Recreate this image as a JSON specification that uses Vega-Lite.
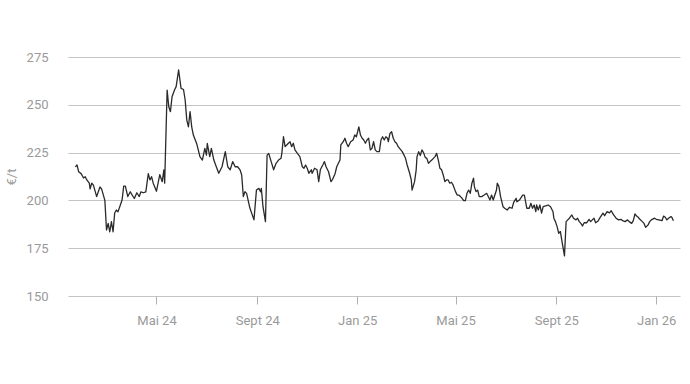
{
  "$schema": "https://vega.github.io/schema/vega-lite/v6.json",
  "width": 612,
  "height": 239,
  "autosize": {"type": "none"},
  "padding": {"left": 68, "top": 57, "right": 10, "bottom": 88},
  "background": "white",
  "config": {
    "view": {"stroke": null},
    "font": "Roboto"
  },
  "data": {
    "values": [
      {"d": "2024-01-23", "v": 217.5},
      {"d": "2024-01-25", "v": 218.5},
      {"d": "2024-01-27", "v": 215},
      {"d": "2024-01-30", "v": 214},
      {"d": "2024-02-02", "v": 211.7},
      {"d": "2024-02-04", "v": 212.4},
      {"d": "2024-02-06", "v": 210.7},
      {"d": "2024-02-09", "v": 209},
      {"d": "2024-02-10", "v": 206},
      {"d": "2024-02-12", "v": 209},
      {"d": "2024-02-14", "v": 208},
      {"d": "2024-02-18", "v": 202},
      {"d": "2024-02-22", "v": 207},
      {"d": "2024-02-24", "v": 206},
      {"d": "2024-02-26", "v": 203},
      {"d": "2024-02-28", "v": 200},
      {"d": "2024-03-01", "v": 184.5},
      {"d": "2024-03-03", "v": 188},
      {"d": "2024-03-05", "v": 183.6},
      {"d": "2024-03-07", "v": 188.9},
      {"d": "2024-03-09", "v": 183.6},
      {"d": "2024-03-11", "v": 193.4},
      {"d": "2024-03-13", "v": 195},
      {"d": "2024-03-15", "v": 194},
      {"d": "2024-03-20", "v": 200.2},
      {"d": "2024-03-22", "v": 207.5},
      {"d": "2024-03-24", "v": 207.5},
      {"d": "2024-03-27", "v": 202},
      {"d": "2024-03-30", "v": 204.5},
      {"d": "2024-04-01", "v": 203},
      {"d": "2024-04-04", "v": 201},
      {"d": "2024-04-07", "v": 204},
      {"d": "2024-04-10", "v": 202},
      {"d": "2024-04-12", "v": 204.5},
      {"d": "2024-04-15", "v": 204},
      {"d": "2024-04-18", "v": 204.5},
      {"d": "2024-04-21", "v": 214},
      {"d": "2024-04-23", "v": 210.7},
      {"d": "2024-04-25", "v": 212.4},
      {"d": "2024-04-27", "v": 209},
      {"d": "2024-05-01", "v": 204.8},
      {"d": "2024-05-05", "v": 213.5},
      {"d": "2024-05-08", "v": 209.8},
      {"d": "2024-05-10", "v": 216},
      {"d": "2024-05-11", "v": 209},
      {"d": "2024-05-14", "v": 257.7},
      {"d": "2024-05-16", "v": 249},
      {"d": "2024-05-18", "v": 246.4},
      {"d": "2024-05-20", "v": 254.2},
      {"d": "2024-05-23", "v": 257.7},
      {"d": "2024-05-25", "v": 259.5},
      {"d": "2024-05-28", "v": 268.2},
      {"d": "2024-05-31", "v": 258.6},
      {"d": "2024-06-03", "v": 258},
      {"d": "2024-06-05", "v": 252.5},
      {"d": "2024-06-07", "v": 242},
      {"d": "2024-06-09", "v": 238.5},
      {"d": "2024-06-11", "v": 246.4},
      {"d": "2024-06-13", "v": 238.5},
      {"d": "2024-06-15", "v": 234.2},
      {"d": "2024-06-19", "v": 229.8},
      {"d": "2024-06-21", "v": 226.4},
      {"d": "2024-06-23", "v": 222.9},
      {"d": "2024-06-26", "v": 221.1},
      {"d": "2024-06-29", "v": 227.2},
      {"d": "2024-07-01", "v": 223.7},
      {"d": "2024-07-02", "v": 229.8},
      {"d": "2024-07-05", "v": 222.9},
      {"d": "2024-07-07", "v": 227.2},
      {"d": "2024-07-10", "v": 221.1},
      {"d": "2024-07-13", "v": 217.6},
      {"d": "2024-07-16", "v": 214.2},
      {"d": "2024-07-20", "v": 217.6},
      {"d": "2024-07-24", "v": 225.5},
      {"d": "2024-07-27", "v": 217.6},
      {"d": "2024-07-30", "v": 216},
      {"d": "2024-08-02", "v": 220.3},
      {"d": "2024-08-05", "v": 217.6},
      {"d": "2024-08-08", "v": 217.6},
      {"d": "2024-08-11", "v": 216},
      {"d": "2024-08-13", "v": 213.3},
      {"d": "2024-08-15", "v": 202},
      {"d": "2024-08-17", "v": 204.6},
      {"d": "2024-08-19", "v": 203.7},
      {"d": "2024-08-23", "v": 196},
      {"d": "2024-08-28", "v": 189.8},
      {"d": "2024-08-31", "v": 205.4},
      {"d": "2024-09-03", "v": 206.3},
      {"d": "2024-09-05", "v": 204.5},
      {"d": "2024-09-06", "v": 206.3},
      {"d": "2024-09-08", "v": 196.7},
      {"d": "2024-09-11", "v": 188.9},
      {"d": "2024-09-13", "v": 223.7},
      {"d": "2024-09-15", "v": 224.6},
      {"d": "2024-09-18", "v": 220.3},
      {"d": "2024-09-21", "v": 216},
      {"d": "2024-09-24", "v": 219.4},
      {"d": "2024-09-27", "v": 221.1},
      {"d": "2024-09-30", "v": 222},
      {"d": "2024-10-01", "v": 224.6},
      {"d": "2024-10-03", "v": 233.3},
      {"d": "2024-10-05", "v": 228.1},
      {"d": "2024-10-07", "v": 229},
      {"d": "2024-10-09", "v": 229.9},
      {"d": "2024-10-11", "v": 230.7},
      {"d": "2024-10-13", "v": 228.1},
      {"d": "2024-10-15", "v": 229.9},
      {"d": "2024-10-17", "v": 226.4},
      {"d": "2024-10-20", "v": 224.6},
      {"d": "2024-10-23", "v": 222.9},
      {"d": "2024-10-26", "v": 217.6},
      {"d": "2024-10-28", "v": 216.8},
      {"d": "2024-10-30", "v": 218.5},
      {"d": "2024-11-01", "v": 216.8},
      {"d": "2024-11-03", "v": 214.2},
      {"d": "2024-11-06", "v": 216},
      {"d": "2024-11-07", "v": 214.2},
      {"d": "2024-11-10", "v": 216.8},
      {"d": "2024-11-13", "v": 216},
      {"d": "2024-11-15", "v": 209.8},
      {"d": "2024-11-17", "v": 216},
      {"d": "2024-11-20", "v": 218.5},
      {"d": "2024-11-22", "v": 220.3},
      {"d": "2024-11-24", "v": 217.6},
      {"d": "2024-11-27", "v": 215},
      {"d": "2024-11-30", "v": 209.8},
      {"d": "2024-12-02", "v": 211},
      {"d": "2024-12-05", "v": 214},
      {"d": "2024-12-07", "v": 217.6},
      {"d": "2024-12-09", "v": 219.4},
      {"d": "2024-12-11", "v": 221.1},
      {"d": "2024-12-12", "v": 229},
      {"d": "2024-12-15", "v": 230.7},
      {"d": "2024-12-17", "v": 232.5},
      {"d": "2024-12-19", "v": 229.9},
      {"d": "2024-12-21", "v": 228.1},
      {"d": "2024-12-24", "v": 230.7},
      {"d": "2024-12-27", "v": 231.6},
      {"d": "2024-12-29", "v": 234.2},
      {"d": "2024-12-31", "v": 233.3},
      {"d": "2025-01-03", "v": 238.5},
      {"d": "2025-01-05", "v": 234.2},
      {"d": "2025-01-07", "v": 232.5},
      {"d": "2025-01-09", "v": 231.6},
      {"d": "2025-01-11", "v": 229.9},
      {"d": "2025-01-13", "v": 231.6},
      {"d": "2025-01-15", "v": 232.5},
      {"d": "2025-01-17", "v": 226.4},
      {"d": "2025-01-19", "v": 227.2},
      {"d": "2025-01-21", "v": 230.7},
      {"d": "2025-01-23", "v": 226.4},
      {"d": "2025-01-25", "v": 225.5},
      {"d": "2025-01-28", "v": 225.5},
      {"d": "2025-01-30", "v": 231.6},
      {"d": "2025-02-01", "v": 233.3},
      {"d": "2025-02-03", "v": 231.6},
      {"d": "2025-02-05", "v": 233.3},
      {"d": "2025-02-07", "v": 232.5},
      {"d": "2025-02-08", "v": 230.7},
      {"d": "2025-02-10", "v": 235},
      {"d": "2025-02-12", "v": 235.9},
      {"d": "2025-02-14", "v": 232.5},
      {"d": "2025-02-16", "v": 230.7},
      {"d": "2025-02-18", "v": 229.9},
      {"d": "2025-02-20", "v": 228.1},
      {"d": "2025-02-25", "v": 225.5},
      {"d": "2025-03-01", "v": 222},
      {"d": "2025-03-03", "v": 218.5},
      {"d": "2025-03-06", "v": 214.2},
      {"d": "2025-03-08", "v": 210.7},
      {"d": "2025-03-09", "v": 205.4},
      {"d": "2025-03-12", "v": 209.8},
      {"d": "2025-03-14", "v": 216},
      {"d": "2025-03-15", "v": 222.9},
      {"d": "2025-03-17", "v": 225.5},
      {"d": "2025-03-19", "v": 223.5},
      {"d": "2025-03-21", "v": 226.4},
      {"d": "2025-03-23", "v": 225},
      {"d": "2025-03-25", "v": 222.5},
      {"d": "2025-03-27", "v": 222},
      {"d": "2025-03-29", "v": 219.4},
      {"d": "2025-03-31", "v": 220.3},
      {"d": "2025-04-02", "v": 221.1},
      {"d": "2025-04-04", "v": 222},
      {"d": "2025-04-06", "v": 222.9},
      {"d": "2025-04-08", "v": 224.6},
      {"d": "2025-04-10", "v": 221.1},
      {"d": "2025-04-12", "v": 216.8},
      {"d": "2025-04-14", "v": 216},
      {"d": "2025-04-16", "v": 213.3},
      {"d": "2025-04-18", "v": 209.8},
      {"d": "2025-04-20", "v": 210.7},
      {"d": "2025-04-22", "v": 210.7},
      {"d": "2025-04-24", "v": 209},
      {"d": "2025-04-26", "v": 209.5},
      {"d": "2025-04-28", "v": 208.1},
      {"d": "2025-05-01", "v": 204.6},
      {"d": "2025-05-03", "v": 202.8},
      {"d": "2025-05-05", "v": 202.8},
      {"d": "2025-05-07", "v": 202},
      {"d": "2025-05-09", "v": 201.1},
      {"d": "2025-05-11", "v": 199.9},
      {"d": "2025-05-13", "v": 199.9},
      {"d": "2025-05-15", "v": 203.7},
      {"d": "2025-05-17", "v": 205.4},
      {"d": "2025-05-19", "v": 203.7},
      {"d": "2025-05-21", "v": 209},
      {"d": "2025-05-23", "v": 211.6},
      {"d": "2025-05-24", "v": 207.2},
      {"d": "2025-05-26", "v": 204.6},
      {"d": "2025-05-28", "v": 205.4},
      {"d": "2025-05-30", "v": 202},
      {"d": "2025-06-02", "v": 202},
      {"d": "2025-06-05", "v": 202.8},
      {"d": "2025-06-08", "v": 203.7},
      {"d": "2025-06-10", "v": 202},
      {"d": "2025-06-12", "v": 200.2},
      {"d": "2025-06-14", "v": 202.8},
      {"d": "2025-06-16", "v": 200.2},
      {"d": "2025-06-20", "v": 205.4},
      {"d": "2025-06-21", "v": 209},
      {"d": "2025-06-23", "v": 207.2},
      {"d": "2025-06-25", "v": 202},
      {"d": "2025-06-28", "v": 196.7},
      {"d": "2025-06-30", "v": 195.9},
      {"d": "2025-07-03", "v": 195},
      {"d": "2025-07-06", "v": 196.4},
      {"d": "2025-07-09", "v": 195.9},
      {"d": "2025-07-11", "v": 199},
      {"d": "2025-07-14", "v": 201.1},
      {"d": "2025-07-15", "v": 199.3},
      {"d": "2025-07-18", "v": 200.2},
      {"d": "2025-07-22", "v": 202.8},
      {"d": "2025-07-24", "v": 202.8},
      {"d": "2025-07-27", "v": 195.9},
      {"d": "2025-07-30", "v": 195.9},
      {"d": "2025-08-01", "v": 198.5},
      {"d": "2025-08-03", "v": 195.9},
      {"d": "2025-08-05", "v": 197.6},
      {"d": "2025-08-07", "v": 194.1},
      {"d": "2025-08-08", "v": 197.6},
      {"d": "2025-08-10", "v": 195},
      {"d": "2025-08-12", "v": 197.6},
      {"d": "2025-08-14", "v": 193.3},
      {"d": "2025-08-16", "v": 196.7},
      {"d": "2025-08-19", "v": 197.1},
      {"d": "2025-08-22", "v": 197.6},
      {"d": "2025-08-25", "v": 196.7},
      {"d": "2025-08-28", "v": 194.1},
      {"d": "2025-08-29", "v": 190.7},
      {"d": "2025-08-31", "v": 188.9},
      {"d": "2025-09-02", "v": 186.3},
      {"d": "2025-09-04", "v": 182.8},
      {"d": "2025-09-06", "v": 183.7},
      {"d": "2025-09-08", "v": 178.4},
      {"d": "2025-09-11", "v": 171},
      {"d": "2025-09-13", "v": 188.9},
      {"d": "2025-09-15", "v": 189.8},
      {"d": "2025-09-17", "v": 190.7},
      {"d": "2025-09-20", "v": 192.4},
      {"d": "2025-09-22", "v": 190.7},
      {"d": "2025-09-25", "v": 189.8},
      {"d": "2025-09-27", "v": 190.7},
      {"d": "2025-09-29", "v": 188.9},
      {"d": "2025-10-01", "v": 188},
      {"d": "2025-10-03", "v": 186.6},
      {"d": "2025-10-05", "v": 188.3},
      {"d": "2025-10-08", "v": 188.3},
      {"d": "2025-10-11", "v": 190.1},
      {"d": "2025-10-13", "v": 188.9},
      {"d": "2025-10-15", "v": 189.8},
      {"d": "2025-10-17", "v": 190.7},
      {"d": "2025-10-19", "v": 188.3},
      {"d": "2025-10-22", "v": 189.2},
      {"d": "2025-10-24", "v": 190.7},
      {"d": "2025-10-28", "v": 193.3},
      {"d": "2025-10-30", "v": 192},
      {"d": "2025-11-02", "v": 194.1},
      {"d": "2025-11-05", "v": 193.5},
      {"d": "2025-11-07", "v": 194.6},
      {"d": "2025-11-10", "v": 192.4},
      {"d": "2025-11-13", "v": 190.7},
      {"d": "2025-11-16", "v": 189.8},
      {"d": "2025-11-19", "v": 190.1},
      {"d": "2025-11-21", "v": 189.4},
      {"d": "2025-11-24", "v": 188.9},
      {"d": "2025-11-27", "v": 189.8},
      {"d": "2025-11-29", "v": 188.9},
      {"d": "2025-12-02", "v": 188},
      {"d": "2025-12-04", "v": 189.4},
      {"d": "2025-12-06", "v": 192.9},
      {"d": "2025-12-08", "v": 191.8},
      {"d": "2025-12-10", "v": 191.2},
      {"d": "2025-12-12", "v": 190.1},
      {"d": "2025-12-15", "v": 188.9},
      {"d": "2025-12-17", "v": 188},
      {"d": "2025-12-19", "v": 185.9},
      {"d": "2025-12-22", "v": 187.1},
      {"d": "2025-12-24", "v": 188.9},
      {"d": "2025-12-26", "v": 189.8},
      {"d": "2025-12-30", "v": 190.7},
      {"d": "2026-01-01", "v": 190.1},
      {"d": "2026-01-04", "v": 189.8},
      {"d": "2026-01-08", "v": 189.4},
      {"d": "2026-01-10", "v": 191.8},
      {"d": "2026-01-12", "v": 191.2},
      {"d": "2026-01-14", "v": 189.8},
      {"d": "2026-01-16", "v": 190.7},
      {"d": "2026-01-19", "v": 191.5},
      {"d": "2026-01-20", "v": 191.2},
      {"d": "2026-01-22", "v": 189.4}
    ]
  },
  "mark": {"type": "line", "color": "#2a2a2a", "strokeWidth": 1.3, "strokeJoin": "round"},
  "encoding": {
    "x": {
      "field": "d",
      "type": "temporal",
      "scale": {
        "type": "utc",
        "domain": [
          {"year": 2024, "month": 1, "date": 14, "utc": true},
          {"year": 2026, "month": 1, "date": 30, "utc": true}
        ]
      },
      "axis": {
        "title": null,
        "grid": false,
        "domain": false,
        "values": [
          {"year": 2024, "month": 5, "date": 1, "utc": true},
          {"year": 2024, "month": 9, "date": 1, "utc": true},
          {"year": 2025, "month": 1, "date": 1, "utc": true},
          {"year": 2025, "month": 5, "date": 1, "utc": true},
          {"year": 2025, "month": 9, "date": 1, "utc": true},
          {"year": 2026, "month": 1, "date": 1, "utc": true}
        ],
        "labelExpr": "(utcmonth(datum.value) == 0 ? 'Jan ' : utcmonth(datum.value) == 4 ? 'Mai ' : 'Sept ') + utcFormat(datum.value, '%y')",
        "tickSize": 8,
        "tickColor": "#b0b0b0",
        "tickWidth": 1,
        "labelPadding": 10,
        "labelFontSize": 13,
        "labelColor": "#9a9a9a",
        "labelFont": "Roboto"
      }
    },
    "y": {
      "field": "v",
      "type": "quantitative",
      "scale": {"domain": [150, 275], "nice": false, "zero": false},
      "axis": {
        "title": "€/t",
        "titleFontSize": 13,
        "titleFontWeight": "normal",
        "titleColor": "#9a9a9a",
        "titleFont": "Roboto",
        "titlePadding": 8,
        "values": [150, 175, 200, 225, 250, 275],
        "domain": false,
        "ticks": false,
        "labelPadding": 20,
        "labelFontSize": 13,
        "labelColor": "#9a9a9a",
        "labelFont": "Roboto",
        "gridColor": "#c4c4c4",
        "gridWidth": 1
      }
    }
  }
}
